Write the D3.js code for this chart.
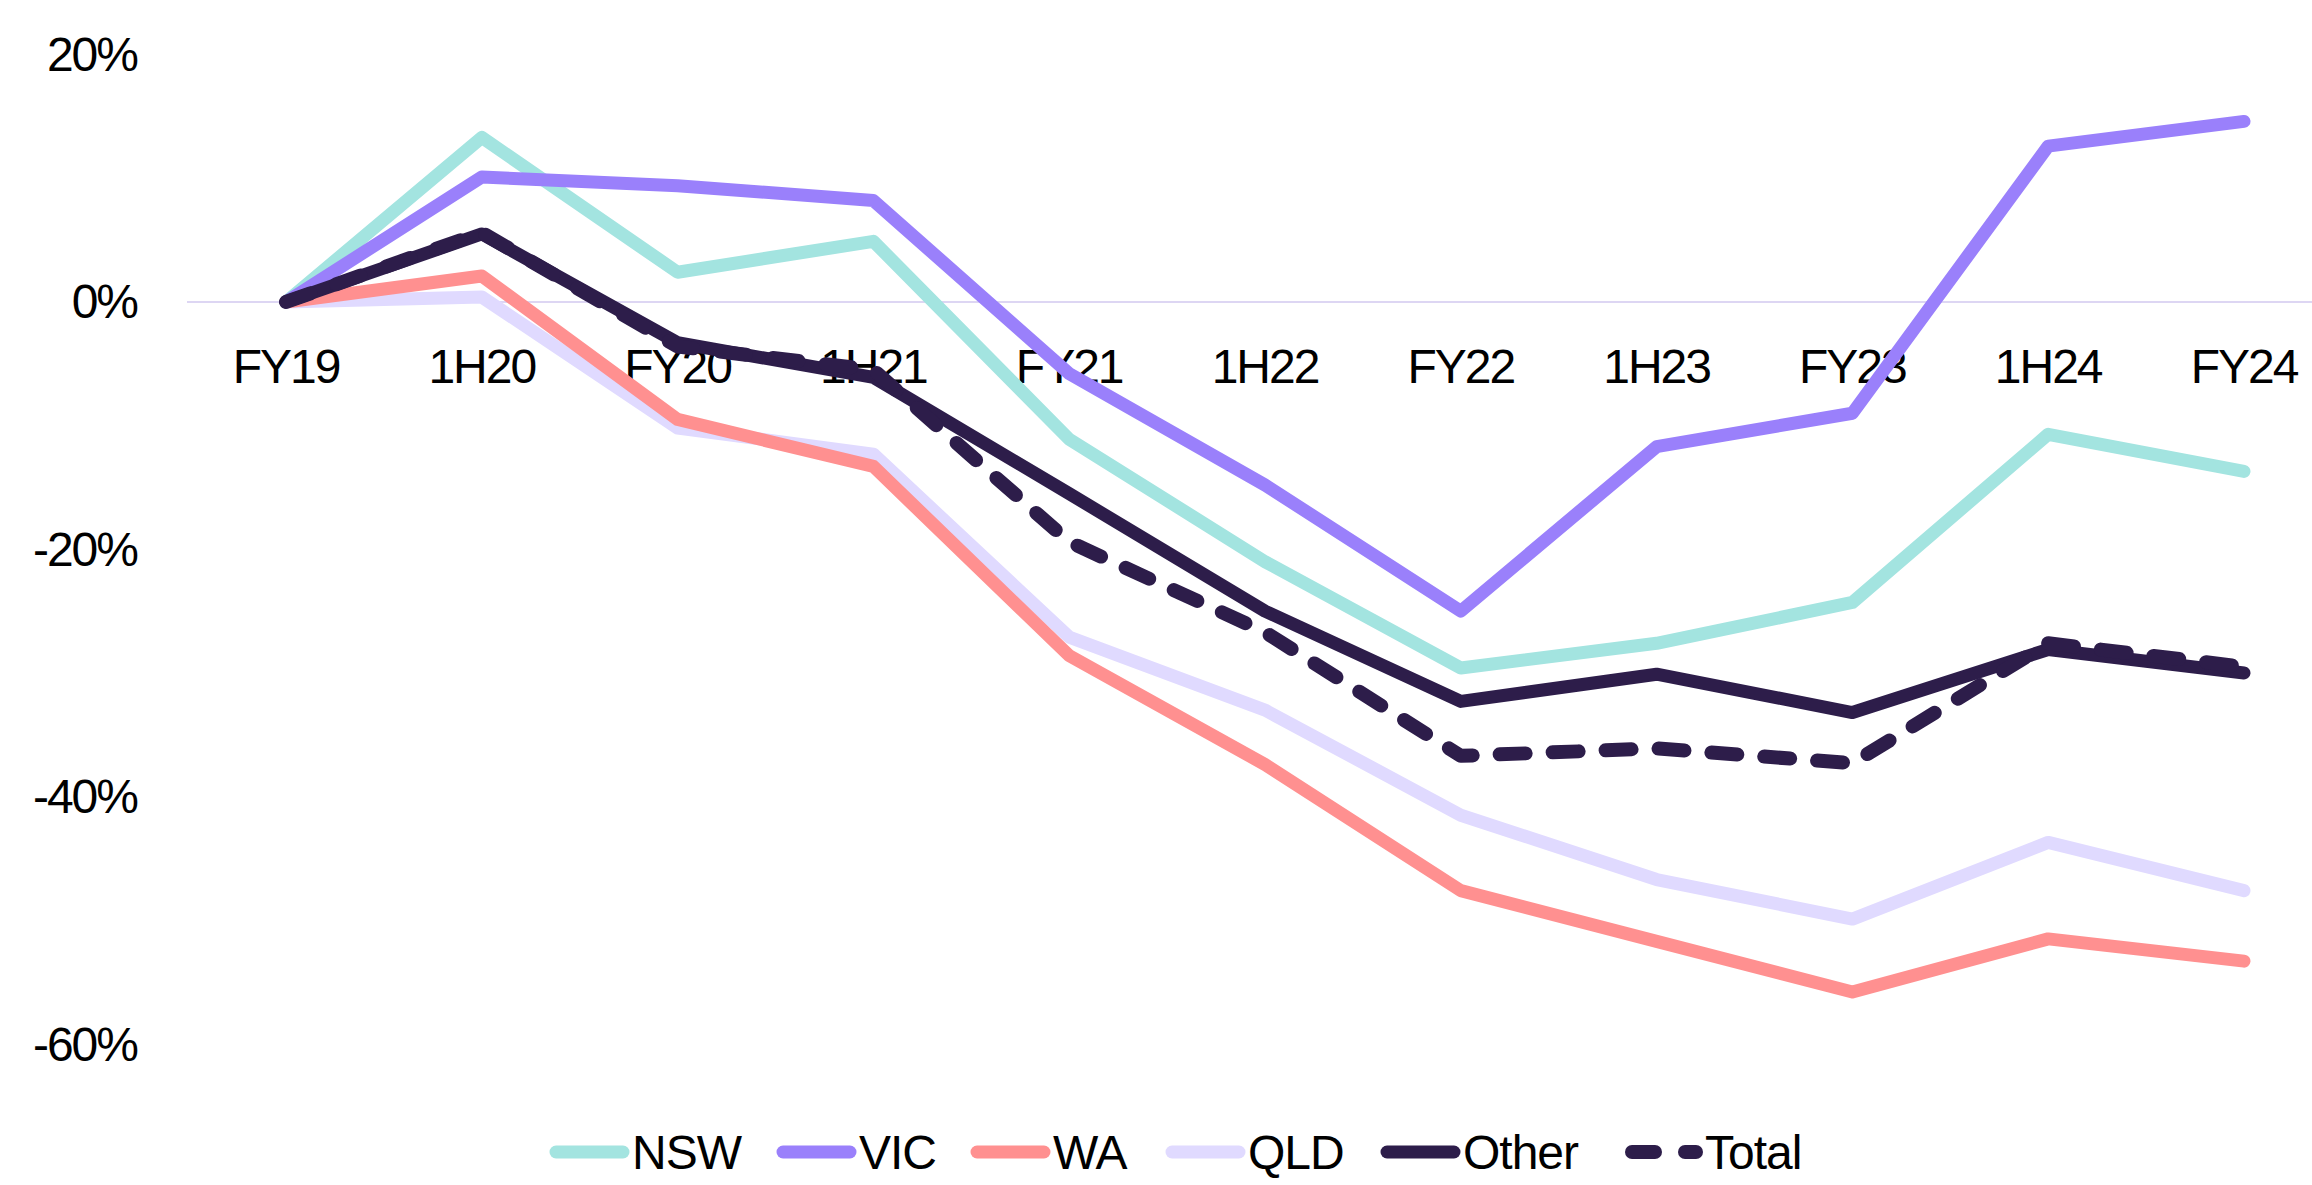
<!DOCTYPE html>
<html>
<head>
<meta charset="utf-8">
<script src="https://cdn.jsdelivr.net/npm/d3@7"></script>
<style>
html,body{margin:0;padding:0;background:#fff;}
svg{display:block;}
text{font-family:"Liberation Sans",Arial,sans-serif;fill:#000;letter-spacing:-2px;}
</style>
</head>
<body>
<svg id="chart" width="2312" height="1185"></svg>
<script>
const categories = ["FY19","1H20","FY20","1H21","FY21","1H22","FY22","1H23","FY23","1H24","FY24"];
const nsw   = [0, 13.3, 2.4, 4.9, -11.1, -21.0, -29.6, -27.6, -24.3, -10.7, -13.7];
const vic   = [0, 10.1, 9.4, 8.2, -5.8, -14.8, -25.0, -11.7, -9.0, 12.6, 14.6];
const wa    = [0, 2.1, -9.5, -13.3, -28.6, -37.4, -47.6, -51.7, -55.8, -51.5, -53.3];
const qld   = [0, 0.4, -10.2, -12.3, -27.1, -33.0, -41.5, -46.7, -49.9, -43.7, -47.6];
const other = [0, 5.5, -3.3, -6.1, -15.5, -25.0, -32.3, -30.1, -33.2, -28.1, -30.0];
const total = [0, 5.6, -3.6, -5.5, -19.4, -26.7, -36.7, -36.1, -37.3, -27.6, -29.5];
const yTicks = [20, 0, -20, -40, -60];

const seriesNames = ["NSW","VIC","WA","QLD","Other","Total"];
const seriesData = [nsw, vic, wa, qld, other, total];
const colors = ["#a3e4e0","#9a80fb","#ff9090","#e0daff","#2d1d4a","#2d1d4a"];
const dashed = [false,false,false,false,false,true];

const svg = d3.select("#chart");
const x = d3.scalePoint().domain(categories).range([286, 2244]);
const y = d3.scaleLinear().domain([-60, 20]).range([1044, 54.6]);

// zero line
svg.append("line")
  .attr("x1", 187).attr("x2", 2312)
  .attr("y1", y(0)).attr("y2", y(0))
  .attr("stroke", "#ddd6f3").attr("stroke-width", 2);

// y axis labels
svg.append("g").selectAll("text").data(yTicks).join("text")
  .attr("x", 137).attr("y", d => y(d))
  .attr("text-anchor", "end").attr("dominant-baseline", "central")
  .attr("font-size", 48)
  .text(d => d + "%");

// x axis labels
svg.append("g").selectAll("text").data(categories).join("text")
  .attr("x", d => x(d)).attr("y", 366)
  .attr("text-anchor", "middle").attr("dominant-baseline", "central")
  .attr("font-size", 48)
  .text(d => d);

const line = d3.line().x((d,i) => x(categories[i])).y(d => y(d));

const order = [3, 2, 0, 1, 4, 5];
order.forEach(k => {
  svg.append("path")
    .datum(seriesData[k])
    .attr("d", line)
    .attr("fill", "none")
    .attr("stroke", colors[k])
    .attr("stroke-width", k === 5 ? 14 : 13)
    .attr("stroke-linejoin", "round")
    .attr("stroke-linecap", "round")
    .attr("stroke-dasharray", dashed[k] ? "26 27" : null);
});

// legend
const legendX = [549, 776, 970, 1165, 1380, 1625];
const legendY = 1152;
const lg = svg.append("g");
seriesNames.forEach((name, k) => {
  const g = lg.append("g").attr("transform", `translate(${legendX[k]},${legendY})`);
  if (dashed[k]) {
    g.append("line").attr("x1", 7).attr("x2", 30).attr("y1", 0).attr("y2", 0)
      .attr("stroke", colors[k]).attr("stroke-width", 14).attr("stroke-linecap", "round");
    g.append("line").attr("x1", 60).attr("x2", 71).attr("y1", 0).attr("y2", 0)
      .attr("stroke", colors[k]).attr("stroke-width", 14).attr("stroke-linecap", "round");
  } else {
    g.append("line").attr("x1", 7).attr("x2", 74).attr("y1", 0).attr("y2", 0)
      .attr("stroke", colors[k]).attr("stroke-width", 13).attr("stroke-linecap", "round");
  }
  g.append("text").attr("x", dashed[k] ? 80 : 83).attr("y", 0)
    .attr("dominant-baseline", "central").attr("font-size", 48)
    .style("letter-spacing", "-1px")
    .text(name);
});
</script>
</body>
</html>
